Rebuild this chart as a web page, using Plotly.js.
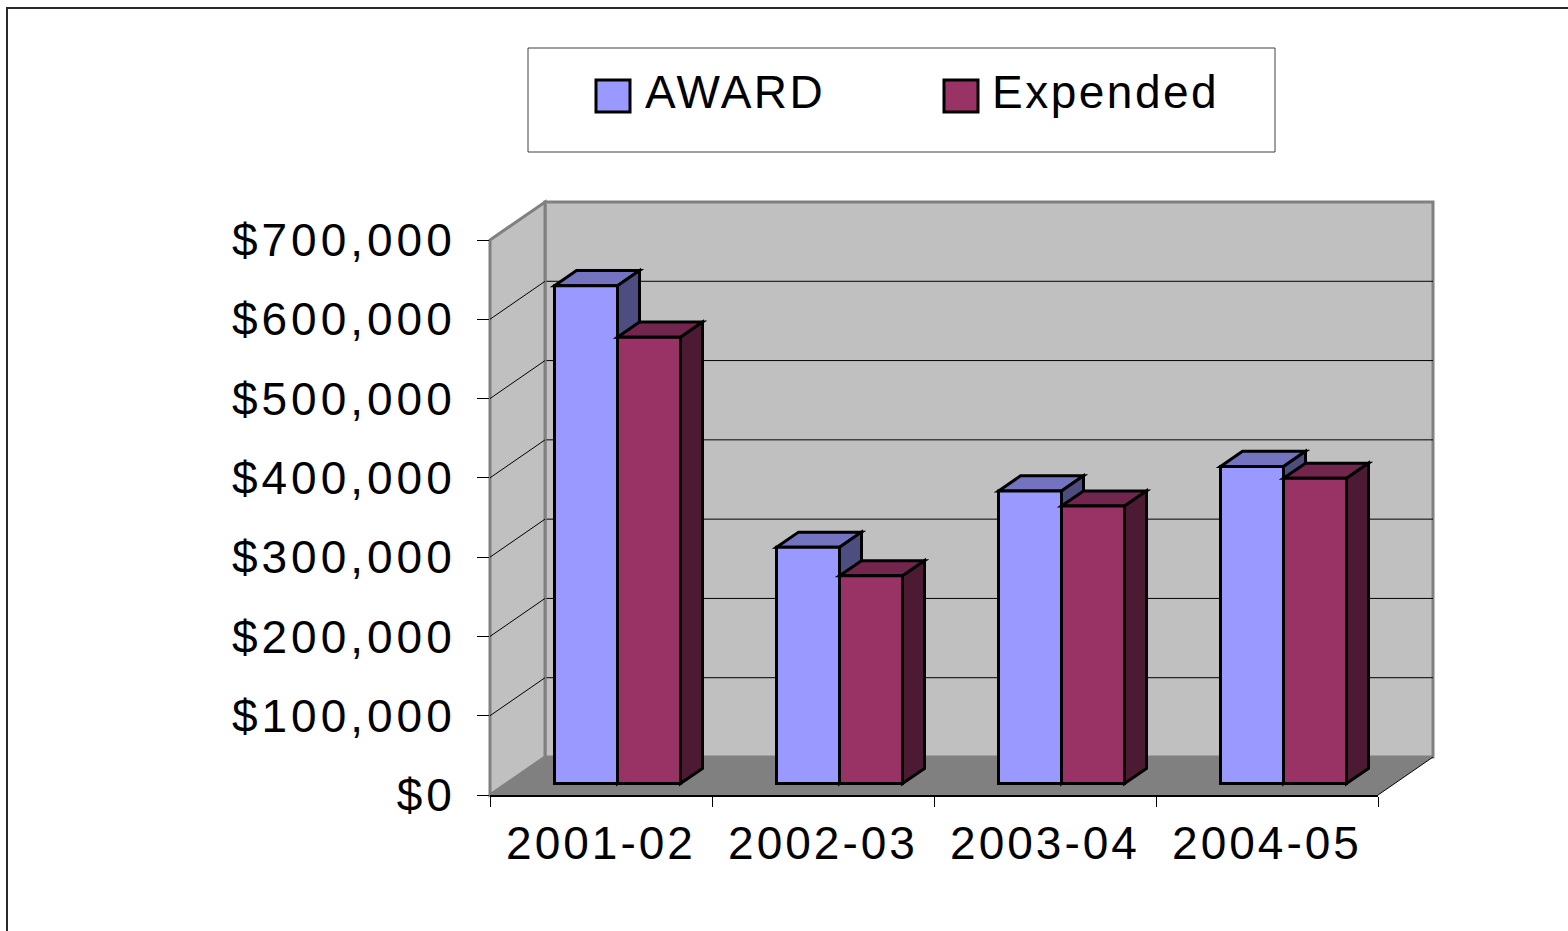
<!DOCTYPE html>
<html><head><meta charset="utf-8">
<script src="https://cdn.plot.ly/plotly-3.0.1.min.js"></script>
<style>
html,body{margin:0;padding:0;background:#fff;overflow:hidden}
#chart{width:1568px;height:931px}
.xtick text{letter-spacing:3px}
.ytick text{letter-spacing:4px}
.annotation-text{letter-spacing:2.5px}
</style></head><body><div id="chart"></div>
<script>
const categories = ['2001-02', '2002-03', '2003-04', '2004-05'];
const award = [628000, 298000, 369000, 400000];
const expended = [563000, 262000, 350000, 385000];
const yTicks = [0, 100000, 200000, 300000, 400000, 500000, 600000, 700000];
const yTickText = yTicks.map(v => '$' + v.toLocaleString('en-US'));
const seriesNames = ['AWARD', 'Expended'];
const frontColors = ['#9999FF', '#993366'];
const topColors = ['#7373C0', '#73264D'];
const sideColors = ['#4D4D80', '#4D1A33'];

const W = 1568, H = 931;
const FX0 = 490, FX1 = 1378, FY0 = 795, FY1 = 240;   // front plane (px)
const DEPTH = [55, -38];                            // depth vector (px)
const BAR_FRONT = 0.3, BAR_DEPTH = 0.4;
const YMAX = yTicks[yTicks.length - 1];
const nCat = categories.length;
const xRange = [-0.5, nCat - 0.5];
const pxPerCat = (FX1 - FX0) / nCat;
const pxPerVal = (FY0 - FY1) / YMAX;
const BAR_W = 63 / pxPerCat;
const idx = categories.map((c, i) => i);

const px = x => x / W;
const py = y => 1 - y / H;
const pt = (x, y) => px(x) + ',' + py(y);
const yPix = v => FY0 - v * pxPerVal;

// depth shift of the bars' front faces, in data units
const shiftX = BAR_FRONT * DEPTH[0] / pxPerCat;
const shiftY = -BAR_FRONT * DEPTH[1] / pxPerVal;
// bar depth, in data units
const ddx = BAR_DEPTH * DEPTH[0] / pxPerCat;
const ddy = -BAR_DEPTH * DEPTH[1] / pxPerVal;

const shapes = [];
// outer frame
shapes.push({type: 'rect', xref: 'paper', yref: 'paper', x0: px(7), x1: 1.2, y0: -0.2, y1: py(8),
  line: {color: '#2a2a2a', width: 2}, fillcolor: 'rgba(0,0,0,0)', layer: 'below'});
// back wall
shapes.push({type: 'rect', xref: 'paper', yref: 'paper',
  x0: px(FX0 + DEPTH[0]), x1: px(FX1 + DEPTH[0]), y0: py(FY0 + DEPTH[1]), y1: py(FY1 + DEPTH[1]),
  fillcolor: '#C0C0C0', line: {color: '#808080', width: 3}, layer: 'below'});
// back wall gridlines
yTicks.slice(1, -1).forEach(v => {
  const yb = yPix(v) + DEPTH[1];
  shapes.push({type: 'line', xref: 'paper', yref: 'paper',
    x0: px(FX0 + DEPTH[0]), y0: py(yb), x1: px(FX1 + DEPTH[0]), y1: py(yb),
    line: {color: '#000', width: 1}, layer: 'below'});
});
// left wall + its diagonal gridlines
shapes.push({type: 'path', xref: 'paper', yref: 'paper',
  path: 'M' + pt(FX0, FY0) + 'L' + pt(FX0, FY1) + 'L' + pt(FX0 + DEPTH[0], FY1 + DEPTH[1]) +
        'L' + pt(FX0 + DEPTH[0], FY0 + DEPTH[1]) + 'Z',
  fillcolor: '#C0C0C0', line: {color: '#808080', width: 3}, layer: 'below'});
yTicks.slice(1, -1).forEach(v => {
  shapes.push({type: 'line', xref: 'paper', yref: 'paper',
    x0: px(FX0), y0: py(yPix(v)), x1: px(FX0 + DEPTH[0]), y1: py(yPix(v) + DEPTH[1]),
    line: {color: '#000', width: 1}, layer: 'below'});
});
// floor
shapes.push({type: 'path', xref: 'paper', yref: 'paper',
  path: 'M' + pt(FX0, FY0) + 'L' + pt(FX1, FY0) + 'L' + pt(FX1 + DEPTH[0], FY0 + DEPTH[1]) +
        'L' + pt(FX0 + DEPTH[0], FY0 + DEPTH[1]) + 'Z',
  fillcolor: '#808080', line: {width: 0}, layer: 'below'});
shapes.push({type: 'line', xref: 'paper', yref: 'paper',
  x0: px(FX1), y0: py(FY0), x1: px(FX1 + DEPTH[0]), y1: py(FY0 + DEPTH[1]),
  line: {color: '#000', width: 1}, layer: 'below'});

// 3D top / side faces of the bars (below each series' front faces)
[award, expended].forEach((vals, s) => {
  const xr = s === 0 ? 'x' : 'x2', yr = s === 0 ? 'y' : 'y2';
  vals.forEach((v, i) => {
    const xl = idx[i] + shiftX + (s === 0 ? -BAR_W : 0), xrt = xl + BAR_W;
    const b = shiftY, t = shiftY + v;
    shapes.push({type: 'path', xref: xr, yref: yr, layer: 'between',
      path: `M${xl},${t}L${xrt},${t}L${xrt + ddx},${t + ddy}L${xl + ddx},${t + ddy}Z`,
      fillcolor: topColors[s], line: {color: '#000', width: 3}});
    shapes.push({type: 'path', xref: xr, yref: yr, layer: 'between',
      path: `M${xrt},${b}L${xrt + ddx},${b + ddy}L${xrt + ddx},${t + ddy}L${xrt},${t}Z`,
      fillcolor: sideColors[s], line: {color: '#000', width: 3}});
  });
});

// legend
shapes.push({type: 'rect', xref: 'paper', yref: 'paper', x0: px(528), x1: px(1275), y0: py(152), y1: py(48),
  fillcolor: '#fff', line: {color: '#404040', width: 1}, layer: 'below'});
const legSq = [596, 944], legTx = [643, 990];
const annotations = [];
seriesNames.forEach((n, s) => {
  shapes.push({type: 'rect', xref: 'paper', yref: 'paper', x0: px(legSq[s]), x1: px(legSq[s] + 34),
    y0: py(112), y1: py(80), fillcolor: frontColors[s], line: {color: '#000', width: 3}});
  annotations.push({xref: 'paper', yref: 'paper', x: px(legTx[s]), y: py(92), xanchor: 'left', yanchor: 'middle',
    text: n, showarrow: false, font: {size: 46, color: '#000'}});
});

const fontFam = 'Arial, "Liberation Sans", sans-serif';
const dom = {x: [px(FX0), px(FX1)], y: [py(FY0), py(FY1)]};

const traces = [
  {type: 'bar', name: seriesNames[0], x: idx, y: award, base: shiftY, xaxis: 'x', yaxis: 'y',
   width: BAR_W, offset: shiftX - BAR_W, marker: {color: frontColors[0], line: {color: '#000', width: 3}},
   showlegend: false, hoverinfo: 'none'},
  {type: 'bar', name: seriesNames[1], x: idx, y: expended, base: shiftY, xaxis: 'x2', yaxis: 'y2',
   width: BAR_W, offset: shiftX, marker: {color: frontColors[1], line: {color: '#000', width: 3}},
   showlegend: false, hoverinfo: 'none'}
];

const layout = {
  width: W, height: H, margin: {l: 0, r: 0, t: 0, b: 0},
  paper_bgcolor: '#fff', plot_bgcolor: 'rgba(0,0,0,0)',
  font: {family: fontFam, color: '#000'},
  showlegend: false, barmode: 'overlay',
  xaxis: {domain: dom.x, anchor: 'y', range: xRange, tickmode: 'array', tickvals: idx, ticktext: categories,
    ticks: '', showline: true, linecolor: '#000', linewidth: 1.5, showgrid: false, zeroline: false,
    minor: {tickmode: 'array', tickvals: [-0.5].concat(idx.map(i => i + 0.5)), ticks: 'outside', ticklen: 10,
            tickcolor: '#000', tickwidth: 1, showgrid: false},
    tickfont: {size: 46, color: '#000'}, ticklabelstandoff: 7, fixedrange: true},
  yaxis: {domain: dom.y, anchor: 'x', range: [0, YMAX], tickmode: 'array', tickvals: yTicks, ticktext: yTickText,
    ticks: 'outside', ticklen: 12, tickcolor: '#000', tickwidth: 1,
    showline: false, showgrid: false, zeroline: false,
    tickfont: {size: 46, color: '#000'}, ticklabelstandoff: 12, fixedrange: true},
  xaxis2: {domain: dom.x, anchor: 'y2', range: xRange, visible: false, fixedrange: true},
  yaxis2: {domain: dom.y, anchor: 'x2', range: [0, YMAX], visible: false, fixedrange: true},
  shapes: shapes, annotations: annotations
};

Plotly.newPlot('chart', traces, layout, {displayModeBar: false, staticPlot: true});
</script></body></html>
